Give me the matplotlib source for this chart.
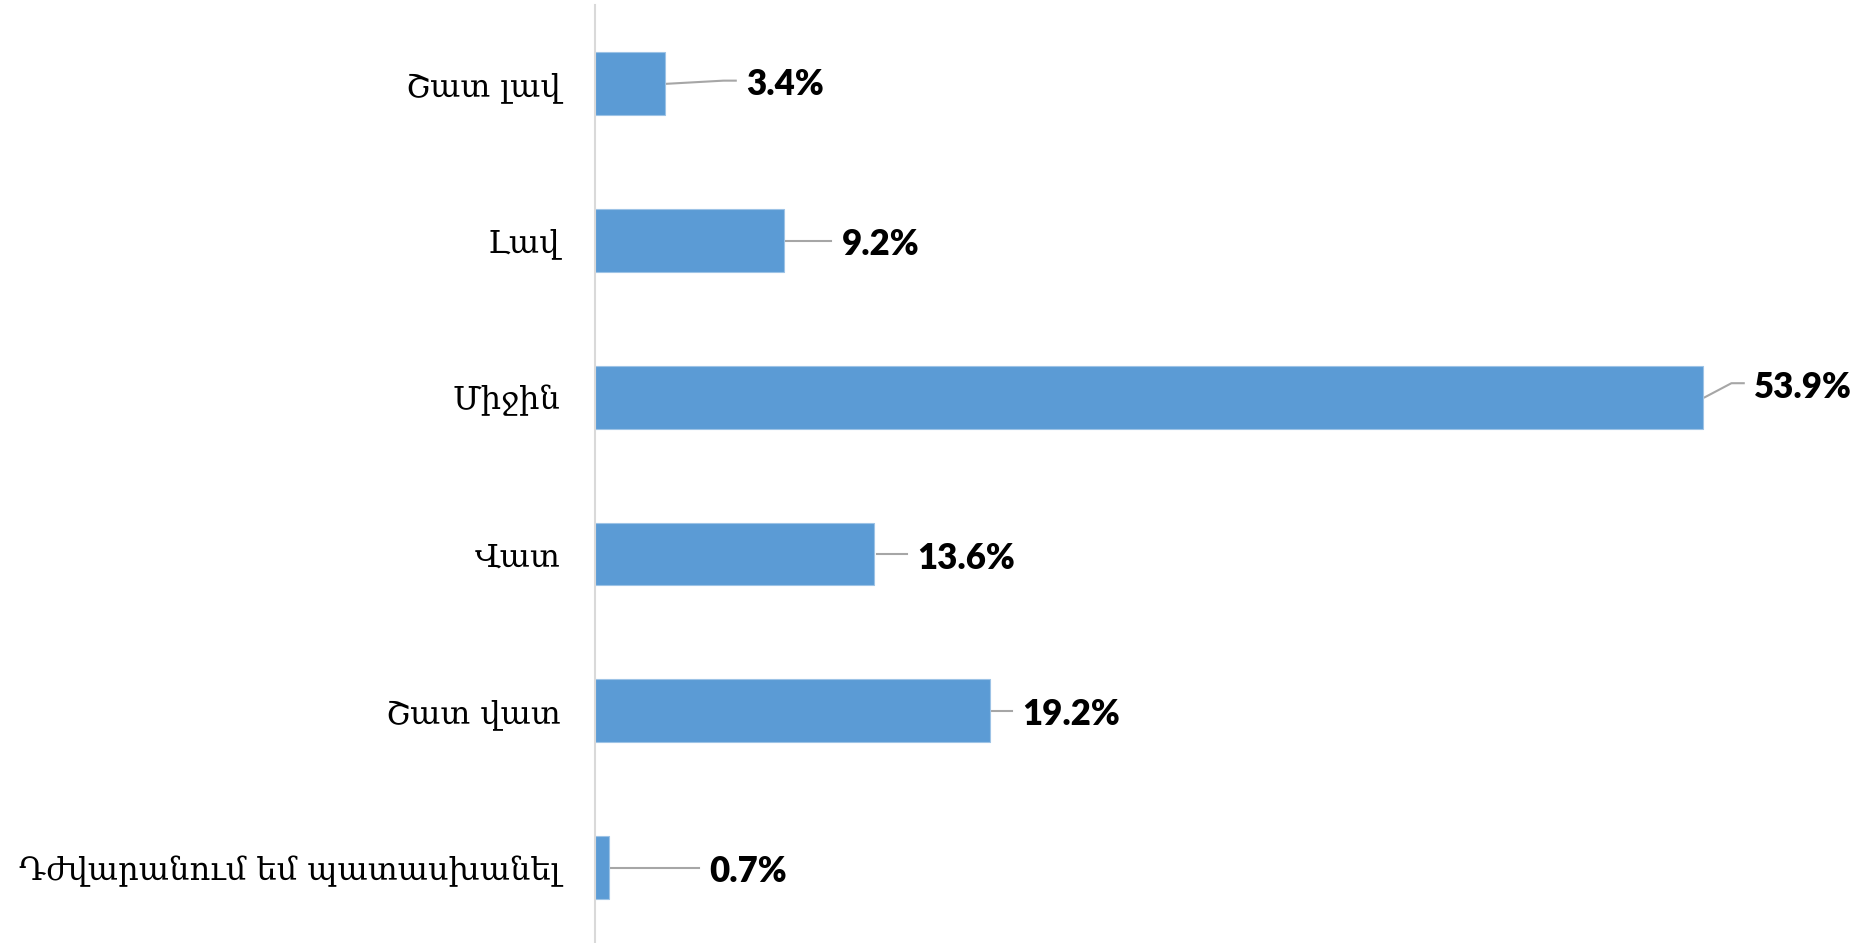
import numpy as np
import matplotlib
matplotlib.use("Agg")
import matplotlib.pyplot as plt

# Survey answers, top to bottom
categories = ["Շատ լավ", "Լավ", "Միջին", "Վատ", "Շատ վատ", "Դժվարանում եմ պատասխանել"]
values = [3.4, 9.2, 53.9, 13.6, 19.2, 0.7]
value_labels = ["3.4%", "9.2%", "53.9%", "13.6%", "19.2%", "0.7%"]

# label placement (layout only): x offset from bar end, y offset in category units
label_dx = [3.95, 2.8, 2.5, 2.1, 1.6, 4.85]
label_dy = [-0.02, 0.0, -0.09, 0.0, 0.0, 0.0]

bar_color = "#5b9bd5"
leader_color = "#a6a6a6"

fig = plt.figure(figsize=(18.65, 9.43), dpi=100)
ax = fig.add_axes([595 / 1865, -3 / 943, 1270 / 1865, 940.6 / 943])

y = np.arange(len(categories))
ax.barh(y, values, height=0.4, color=bar_color, edgecolor="#9dc3e6", linewidth=0.8, zorder=2)

ax.set_ylim(len(categories) - 0.5, -0.5)
ax.set_xlim(0, 61.8)

for i, v in enumerate(values):
    tx = v + label_dx[i]
    ty = i + label_dy[i]
    # leader line from bar end to label, with a small gap before the text
    ax.plot([v + 0.1, tx - 1.1, tx - 0.5], [i, ty, ty], color=leader_color, lw=1.5, zorder=1)
    ax.text(tx, ty + 0.025, value_labels[i], ha="left", va="center", fontsize=25,
            fontweight="heavy", family=["Lato", "DejaVu Sans"], color="black")

ax.set_yticks(y)
ax.set_yticklabels(categories, fontsize=23, family=["DejaVu Serif", "DejaVu Sans"])
ax.tick_params(axis="y", length=0, pad=25)
ax.set_xticks([])

for s in ["top", "right", "bottom"]:
    ax.spines[s].set_visible(False)
ax.spines["left"].set_color("#d9d9d9")
ax.spines["left"].set_linewidth(1.5)

fig.savefig("out.png", dpi=100)
